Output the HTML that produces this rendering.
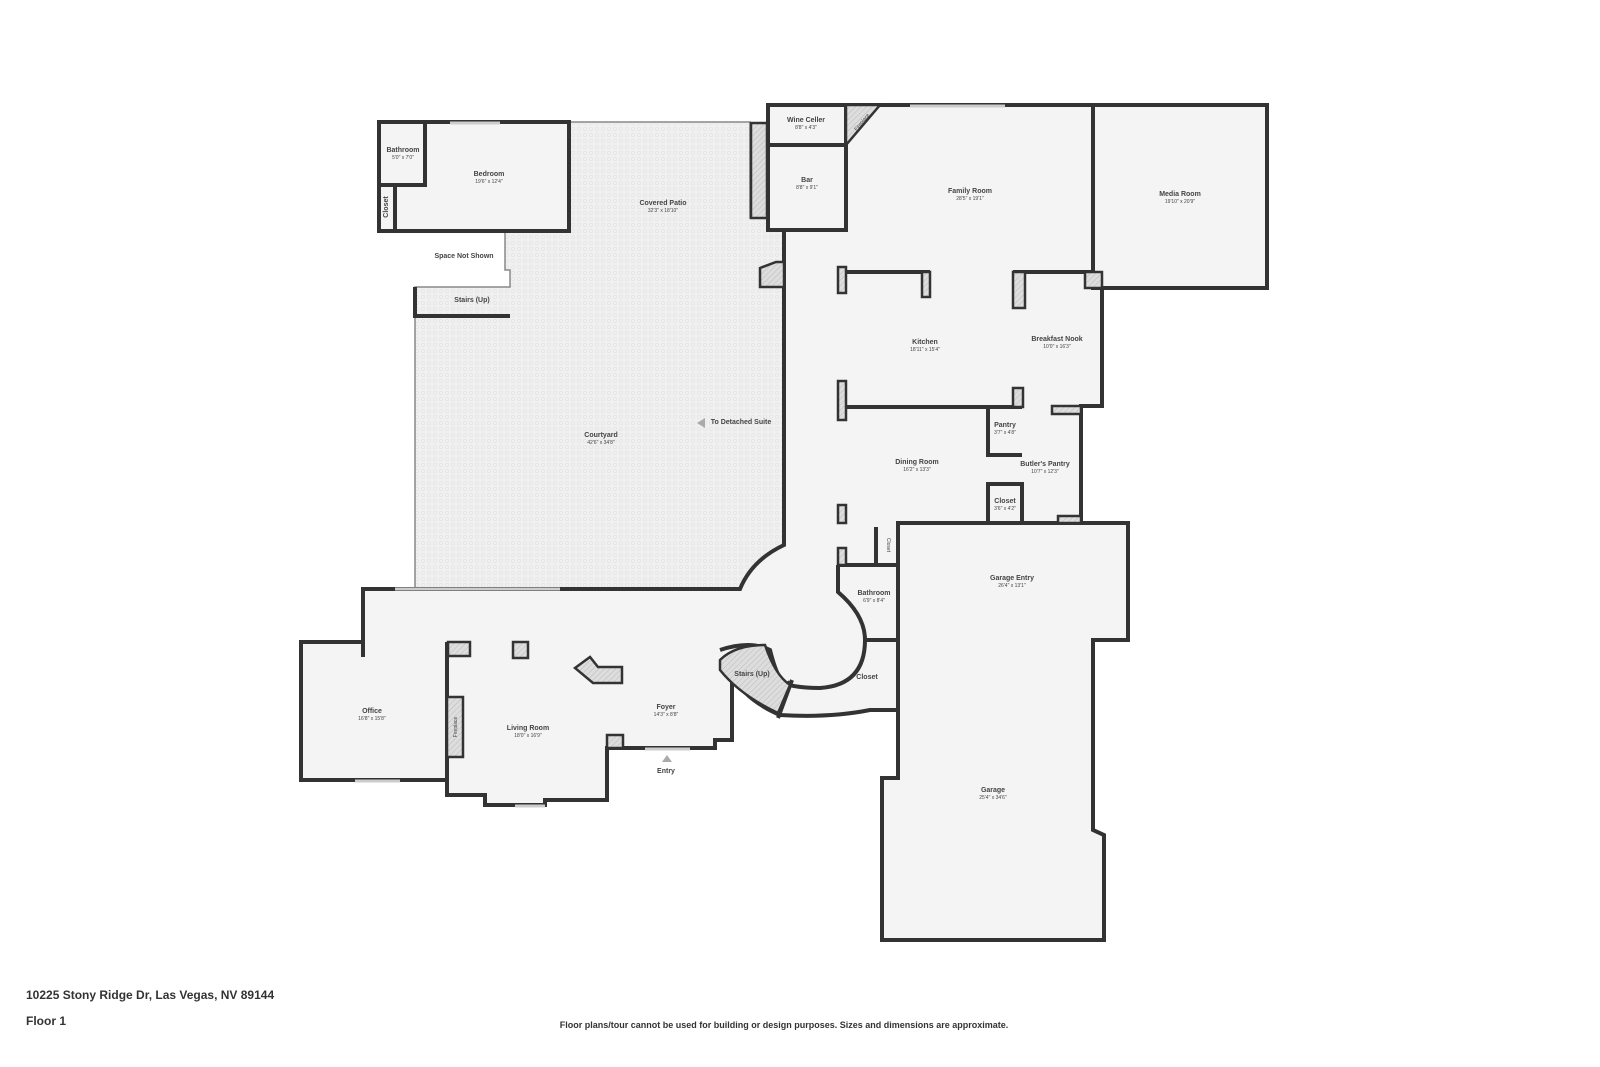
<!DOCTYPE html>
<html><head><meta charset="utf-8"><style>
html,body{margin:0;padding:0;background:#fff;}
svg{display:block}
text{font-family:"Liberation Sans",sans-serif;fill:#444;text-anchor:middle}
.n{font-size:7px;font-weight:bold}
.d{font-size:5px}
</style></head><body>
<svg width="1600" height="1067" viewBox="0 0 1600 1067" xmlns="http://www.w3.org/2000/svg">
<defs>
<pattern id="h" width="4" height="4" patternUnits="userSpaceOnUse" patternTransform="rotate(45)"><rect width="4" height="4" fill="#ddd"/><line x1="0" y1="0" x2="0" y2="4" stroke="#bbb" stroke-width="1"/></pattern>
<pattern id="dots" width="6" height="6" patternUnits="userSpaceOnUse"><rect width="6" height="6" fill="#f0f0f0"/><circle cx="3" cy="3" r="1.6" fill="none" stroke="#e2e2e2" stroke-width="0.6"/></pattern>
</defs>
<g stroke="#333" stroke-width="4" stroke-linejoin="miter" fill="#f4f4f4">
<!-- courtyard -->
<path d="M569,122 L750,122 L750,218 L768,218 L784,230 L784,545 Q752,560 740,589 L415,589 L415,287 L510,287 L510,270 L505,270 L505,231 L569,231 Z" fill="url(#dots)" stroke-width="1.5" stroke="#888"/>
<!-- bedroom block -->
<rect x="379" y="122" width="190" height="109"/>
<!-- main -->
<path d="M363,589 L740,589 Q752,560 784,545 L784,230 L846,230 L846,105 L1093,105 L1093,272 L1102,272 L1102,406 L1081,406 L1081,523 L898,523 L898,710 L870,710 Q830,718 780,715 Q745,700 732,675 L732,740 L715,740 L715,748 L607,748 L607,800 L545,800 L545,805 L485,805 L485,795 L447,795 L447,780 L301,780 L301,642 L363,642 Z"/>
<rect x="1093" y="105" width="174" height="183"/>
<path d="M898,523 L1128,523 L1128,640 L1093,640 L1093,830 L1104,835 L1104,940 L882,940 L882,778 L898,778 Z"/>
<rect x="768" y="105" width="78" height="125"/>
</g>
<g stroke="#333" stroke-width="4" fill="none">
<path d="M425,122 V185 H379 M395,185 V231"/>
<path d="M768,145 H846"/>
<path d="M838,272 H930 M1013,272 H1093"/>
<path d="M845,407 H1022 M988,407 V455 H1022"/>
<rect x="988" y="484" width="34" height="39"/>
<path d="M876,527 V565 M838,565 H898"/>
<path d="M838,565 V592 Q865,615 865,640 H898"/>
<path d="M865,640 Q865,685 820,688 Q790,688 775,680"/>
<path d="M447,642 V780 M363,642 V657 M447,657 V642"/>
<path d="M720,650 Q750,640 770,650 Q780,690 790,682 M778,718 L792,680"/>
<path d="M732,675 Q750,700 780,715"/>
<path d="M415,287 V316 H510"/>
</g>
<g stroke="#333" stroke-width="2.5" fill="url(#h)">
<rect x="751" y="123" width="16" height="95"/>
<rect x="838" y="267" width="8" height="26"/>
<rect x="922" y="272" width="8" height="25"/>
<rect x="1013" y="272" width="12" height="36"/>
<rect x="1085" y="272" width="17" height="16"/>
<rect x="838" y="381" width="8" height="39"/>
<rect x="1013" y="388" width="10" height="19"/>
<rect x="1052" y="406" width="29" height="8"/>
<rect x="1058" y="516" width="23" height="7"/>
<rect x="838" y="505" width="8" height="18"/>
<rect x="838" y="548" width="8" height="17"/>
<rect x="448" y="642" width="22" height="14"/>
<rect x="513" y="642" width="15" height="16"/>
<rect x="607" y="735" width="16" height="13"/>
<rect x="447" y="697" width="16" height="60"/>
<path d="M575,668 L590,657 L598,667 L622,667 L622,683 L593,683 Z"/>
<path d="M760,268 L776,262 L784,262 L784,287 L760,287 Z"/>
<path d="M846,105 L880,105 L846,145 Z"/>
<path d="M720,660 Q735,645 765,645 Q775,675 790,685 L778,713 Q740,695 720,670 Z"/>
</g>
<g stroke="#ccc" stroke-width="3">
<line x1="910" y1="106" x2="1005" y2="106"/><line x1="450" y1="123" x2="500" y2="123"/>
<line x1="515" y1="806" x2="545" y2="806"/><line x1="355" y1="781" x2="400" y2="781"/>
<line x1="645" y1="749" x2="690" y2="749"/><line x1="395" y1="589" x2="560" y2="589"/>
</g>
<polygon points="697,423 705,418 705,428" fill="#aaa"/>
<polygon points="662,762 667,755 672,762" fill="#aaa"/>
<text class="n" x="403" y="152">Bathroom</text><text class="d" x="403" y="159">5'0" x 7'0"</text>
<text class="n" x="489" y="176">Bedroom</text><text class="d" x="489" y="183">19'6" x 12'4"</text>
<text class="n" x="390" y="209" transform="rotate(-90 388 209)">Closet</text>
<text class="n" x="464" y="258">Space Not Shown</text>
<text class="n" x="472" y="302">Stairs (Up)</text>
<text class="n" x="663" y="205">Covered Patio</text><text class="d" x="663" y="212">32'3" x 18'10"</text>
<text class="n" x="601" y="437">Courtyard</text><text class="d" x="601" y="444">42'6" x 34'8"</text>
<text class="n" x="741" y="424">To Detached Suite</text>
<text class="n" x="806" y="122">Wine Celler</text><text class="d" x="806" y="129">8'8" x 4'3"</text>
<text class="n" x="807" y="182">Bar</text><text class="d" x="807" y="189">8'8" x 9'1"</text>
<text class="n" x="970" y="193">Family Room</text><text class="d" x="970" y="200">28'5" x 19'1"</text>
<text class="n" x="1180" y="196">Media Room</text><text class="d" x="1180" y="203">19'10" x 20'9"</text>
<text class="n" x="925" y="344">Kitchen</text><text class="d" x="925" y="351">18'11" x 15'4"</text>
<text class="n" x="1057" y="341">Breakfast Nook</text><text class="d" x="1057" y="348">10'0" x 16'3"</text>
<text class="n" x="1005" y="427">Pantry</text><text class="d" x="1005" y="434">3'7" x 4'8"</text>
<text class="n" x="917" y="464">Dining Room</text><text class="d" x="917" y="471">16'2" x 13'3"</text>
<text class="n" x="1045" y="466">Butler's Pantry</text><text class="d" x="1045" y="473">10'7" x 12'3"</text>
<text class="n" x="1005" y="503">Closet</text><text class="d" x="1005" y="510">3'6" x 4'2"</text>
<text class="n" x="1012" y="580">Garage Entry</text><text class="d" x="1012" y="587">26'4" x 13'1"</text>
<text class="n" x="874" y="595">Bathroom</text><text class="d" x="874" y="602">6'9" x 8'4"</text>
<text class="n" x="867" y="679">Closet</text>
<text class="n" x="752" y="676">Stairs (Up)</text>
<text class="n" x="666" y="709">Foyer</text><text class="d" x="666" y="716">14'3" x 8'8"</text>
<text class="n" x="528" y="730">Living Room</text><text class="d" x="528" y="737">18'0" x 16'9"</text>
<text class="n" x="372" y="713">Office</text><text class="d" x="372" y="720">16'8" x 15'8"</text>
<text class="n" x="666" y="773">Entry</text>
<text class="n" x="993" y="792">Garage</text><text class="d" x="993" y="799">25'4" x 34'6"</text>
<text class="d" x="457" y="727" transform="rotate(-90 457 727)">Fireplace</text>
<text class="d" x="863" y="123" transform="rotate(-50 863 123)">Fireplace</text>
<text class="d" x="887" y="545" transform="rotate(90 887 545)">Closet</text>
<text x="26" y="999" style="font-size:12px;font-weight:bold;text-anchor:start;fill:#333">10225 Stony Ridge Dr, Las Vegas, NV 89144</text>
<text x="26" y="1025" style="font-size:12px;font-weight:bold;text-anchor:start;fill:#333">Floor 1</text>
<text x="784" y="1028" style="font-size:9px;font-weight:bold;fill:#333">Floor plans/tour cannot be used for building or design purposes. Sizes and dimensions are approximate.</text>
</svg>
</body></html>
